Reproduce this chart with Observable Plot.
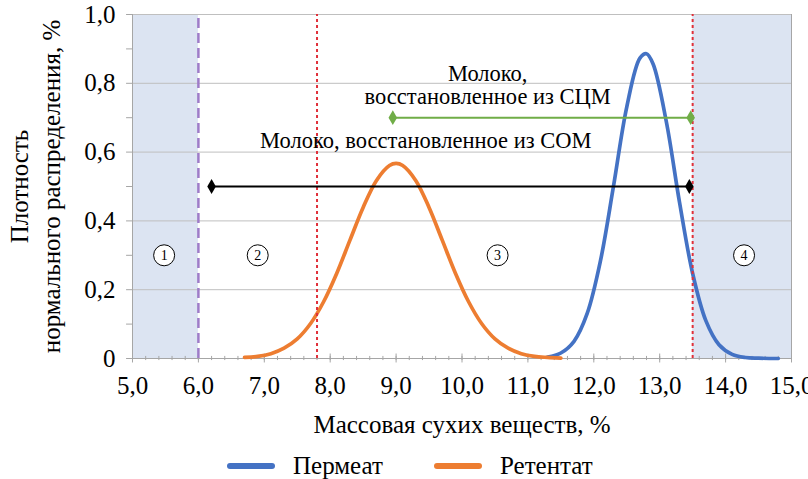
<!DOCTYPE html>
<html>
<head>
<meta charset="utf-8">
<script src="https://cdn.jsdelivr.net/npm/d3@7"></script>
<script src="https://cdn.jsdelivr.net/npm/@observablehq/plot@0.6"></script>
<style>
  html, body { margin: 0; padding: 0; background: #fff; }
  body { width: 808px; height: 479px; overflow: hidden; font-family: "Liberation Serif", "Times New Roman", serif; }
  #legend { position: relative; height: 34px; font-size: 25px; color: #000; }
  .item { position: absolute; top: 4px; display: flex; align-items: center; height: 34px; }
  .sw { width: 48px; height: 6px; border-radius: 3px; margin-right: 18px; }
</style>
</head>
<body>
<div id="chart"></div>
<div id="legend">
  <div class="item" style="left:227px"><div class="sw" style="background:#4472C4"></div><span>Пермеат</span></div>
  <div class="item" style="left:434px"><div class="sw" style="background:#ED7D31"></div><span>Ретентат</span></div>
</div>
<script>
// Permeate (blue) curve
const permX = [11.3, 11.5, 11.7, 11.9, 12.1, 12.3, 12.5, 12.7, 12.8, 12.9, 13.1, 13.3, 13.5, 13.7, 13.9, 14.1, 14.3, 14.5, 14.8];
const permY = [0.004, 0.016, 0.050, 0.131, 0.283, 0.502, 0.731, 0.873, 0.886, 0.856, 0.689, 0.455, 0.247, 0.110, 0.040, 0.012, 0.003, 0.001, 0.000];
// Retentate (orange) curve
const retX = [6.7, 6.9, 7.1, 7.3, 7.5, 7.7, 7.9, 8.1, 8.3, 8.5, 8.7, 8.9, 9.0, 9.1, 9.3, 9.5, 9.7, 9.9, 10.1, 10.3, 10.5, 10.7, 10.9, 11.1, 11.3, 11.5];
const retY = [0.003, 0.006, 0.014, 0.030, 0.057, 0.101, 0.165, 0.248, 0.344, 0.439, 0.517, 0.561, 0.567, 0.561, 0.517, 0.439, 0.344, 0.248, 0.165, 0.101, 0.057, 0.030, 0.014, 0.006, 0.003, 0.001];
// Shaded zones
const zoneStart = [5.0, 13.5];
const zoneEnd = [6.0, 15.0];
// Boundary lines
const purpleLineX = [6.0];
const redLinesX = [7.8, 13.5];
// Range bars
const somRange = [6.2, 13.45];   // y = 0.5, black
const somY = 0.5;
const scmRange = [8.95, 13.47];  // y = 0.7, green
const scmY = 0.7;
// Zone labels
const zoneLabels = ["1", "2", "3", "4"];
const zoneLabelX = [5.48, 6.9, 10.54, 14.28];
const zoneLabelY = 0.3;
// Ticks
const xTicks = [5, 6, 7, 8, 9, 10, 11, 12, 13, 14, 15];
const yTicks = [0, 0.2, 0.4, 0.6, 0.8, 1.0];
const yMinor = [0, 0.1, 0.2, 0.3, 0.4, 0.5, 0.6, 0.7, 0.8, 0.9, 1.0];
const xMinor = d3.range(50, 151, 2).map(d => d / 10);
// Texts
const xLabel = "Массовая сухих веществ, %";
const yLabel1 = "Плотность";
const yLabel2 = "нормального распределения, %";
const somText = "Молоко, восстановленное из СОМ";
const scmText1 = "Молоко,";
const scmText2 = "восстановленное из СЦМ";

const perm = permX.map((x, i) => ({x, y: permY[i]}));
const ret = retX.map((x, i) => ({x, y: retY[i]}));
const zones = zoneStart.map((x1, i) => ({x1, x2: zoneEnd[i]}));
const som = somRange.map(x => ({x, y: somY}));
const scm = scmRange.map(x => ({x, y: scmY}));
const zl = zoneLabels.map((t, i) => ({t, x: zoneLabelX[i], y: zoneLabelY}));

const fmt = d => d === 0 ? "0" : d.toFixed(1).replace(".", ",");
const FONT = "Liberation Serif, Times New Roman, serif";

const chart = Plot.plot({
  width: 808,
  height: 445,
  marginLeft: 132,
  marginRight: 17,
  marginTop: 14,
  marginBottom: 87,
  style: {fontFamily: FONT, fontSize: "25px", color: "#000", background: "#fff"},
  x: {domain: [5, 15]},
  y: {domain: [0, 1]},
  marks: [
    Plot.rect(zones, {x1: "x1", x2: "x2", y1: 0, y2: 1, fill: "#DCE4F2"}),
    Plot.gridY(yTicks.filter(d => d > 0), {stroke: "#BFBFBF", strokeOpacity: 1, strokeWidth: 1}),
    Plot.ruleX([5], {stroke: "#A6A6A6", strokeWidth: 1}),
    Plot.ruleX([15], {stroke: "#A6A6A6", strokeWidth: 1}),
    Plot.ruleY([0], {stroke: "#A6A6A6", strokeWidth: 1}),
    Plot.ruleX(xMinor, {y1: -0.006, y2: 0.006, stroke: "#A6A6A6"}),
    Plot.ruleX(xTicks, {y1: -0.013, y2: 0.013, stroke: "#A6A6A6"}),
    Plot.ruleY(yMinor, {x1: 4.91, x2: 5, stroke: "#A6A6A6"}),
    Plot.axisX({ticks: xTicks, tickSize: 0, tickPadding: 18, tickFormat: fmt, label: null, fontSize: 25}),
    Plot.axisY({ticks: yTicks, tickSize: 0, tickPadding: 17, tickFormat: fmt, label: null, fontSize: 25}),
    Plot.line(perm, {x: "x", y: "y", stroke: "#4472C4", strokeWidth: 3.7, curve: "catmull-rom"}),
    Plot.line(ret, {x: "x", y: "y", stroke: "#ED7D31", strokeWidth: 3.7, curve: "catmull-rom"}),
    Plot.ruleX(purpleLineX, {y1: 0, y2: 1, stroke: "#9E7CC8", strokeWidth: 2.5, strokeDasharray: "10,5"}),
    Plot.ruleX(redLinesX, {y1: 0, y2: 1, stroke: "#E0303A", strokeWidth: 2, strokeDasharray: "3,3"}),
    Plot.line(som, {x: "x", y: "y", stroke: "#000", strokeWidth: 2}),
    Plot.dot(som, {x: "x", y: "y", symbol: "diamond", r: 4.5, fill: "#000", stroke: "none"}),
    Plot.line(scm, {x: "x", y: "y", stroke: "#70AD47", strokeWidth: 2}),
    Plot.dot(scm, {x: "x", y: "y", symbol: "diamond", r: 4.5, fill: "#70AD47", stroke: "none"}),
    Plot.dot(zl, {x: "x", y: "y", r: 10.5, fill: "#fff", stroke: "#000", strokeWidth: 1}),
    Plot.text(zl, {x: "x", y: "y", text: "t", fontSize: 14, fill: "#000"}),
    Plot.text([somText], {x: 9.45, y: 0.634, text: d => d, fontSize: 22.5, fill: "#000"}),
    Plot.text([scmText1], {x: 10.39, y: 0.829, text: d => d, fontSize: 22.5, fill: "#000"}),
    Plot.text([scmText2], {x: 10.39, y: 0.76, text: d => d, fontSize: 22.5, fill: "#000"}),
    Plot.text([xLabel], {frameAnchor: "bottom", lineAnchor: "middle", dy: 66, text: d => d, fontSize: 25, fill: "#000"}),
    Plot.text([yLabel1], {frameAnchor: "left", dx: -113, rotate: -90, textAnchor: "middle", text: d => d, fontSize: 25, fill: "#000"}),
    Plot.text([yLabel2], {frameAnchor: "left", dx: -81, rotate: -90, textAnchor: "middle", text: d => d, fontSize: 25, fill: "#000"})
  ]
});
document.getElementById("chart").appendChild(chart);
</script>
</body>
</html>
